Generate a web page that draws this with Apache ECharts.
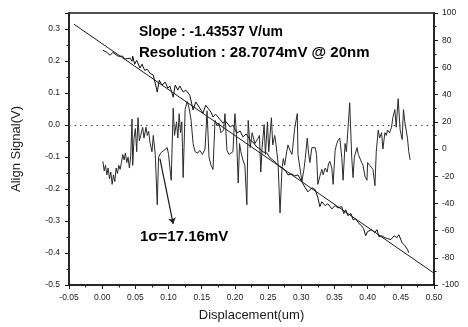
<!DOCTYPE html>
<html>
<head>
<meta charset="utf-8">
<script src="https://cdn.jsdelivr.net/npm/echarts@6/dist/echarts.min.js"></script>
<style>
  html, body { margin: 0; padding: 0; background: #fff; }
  #chart { width: 468px; height: 327px; }
</style>
</head>
<body>
<div id="chart"></div>
<script>
// linear fit of the align signal
const fitLine = [[-0.0425, 0.315], [0.5, -0.463]];

// measured align signal (V) vs displacement (um)
const alignSignal = [
  [0.001,0.234],[0.007,0.227],[0.012,0.218],[0.016,0.227],[0.019,0.224],[0.024,0.215],[0.027,0.212],
  [0.031,0.215],[0.034,0.206],[0.037,0.202],[0.042,0.209],[0.045,0.199],[0.046,0.215],[0.049,0.190],
  [0.052,0.202],[0.057,0.178],[0.060,0.190],[0.064,0.171],[0.068,0.174],[0.072,0.162],[0.077,0.156],
  [0.080,0.159],[0.083,0.103],[0.086,0.140],[0.090,0.125],[0.095,0.134],[0.099,0.115],[0.102,0.122],
  [0.107,0.087],[0.110,0.125],[0.114,0.109],[0.117,0.122],[0.122,0.103],[0.126,0.109],[0.132,0.093],
  [0.137,0.047],[0.141,0.072],[0.147,0.053],[0.152,0.037],[0.156,0.062],[0.159,0.056],[0.164,0.040],
  [0.167,0.025],[0.171,0.034],[0.178,0.016],[0.182,0.006],[0.186,0.012],[0.193,-0.006],[0.197,0.000],
  [0.203,-0.025],[0.208,-0.019],[0.212,-0.037],[0.217,-0.028],[0.223,-0.047],[0.227,-0.053],[0.233,-0.069],
  [0.238,-0.075],[0.242,-0.084],[0.248,-0.087],[0.253,-0.103],[0.257,-0.109],[0.262,-0.118],[0.268,-0.131],
  [0.272,-0.134],[0.277,-0.146],[0.280,-0.156],[0.286,-0.153],[0.290,-0.159],[0.295,-0.156],[0.301,-0.178],
  [0.306,-0.196],[0.310,-0.209],[0.316,-0.196],[0.321,-0.202],[0.325,-0.227],[0.328,-0.255],[0.331,-0.240],
  [0.336,-0.252],[0.340,-0.246],[0.346,-0.262],[0.351,-0.252],[0.355,-0.259],[0.361,-0.255],[0.364,-0.277],
  [0.367,-0.265],[0.370,-0.283],[0.375,-0.277],[0.378,-0.296],[0.382,-0.293],[0.387,-0.308],[0.391,-0.315],
  [0.394,-0.324],[0.397,-0.346],[0.400,-0.333],[0.406,-0.327],[0.411,-0.336],[0.414,-0.327],[0.417,-0.349],
  [0.421,-0.346],[0.426,-0.352],[0.430,-0.355],[0.435,-0.358],[0.440,-0.346],[0.444,-0.352],[0.447,-0.343],
  [0.452,-0.368],[0.456,-0.377],[0.460,-0.389],[0.462,-0.399]
];

// residual noise (mV, right axis)
const noiseSignal = [
  [0.001,-9],[0.003,-16],[0.005,-12],[0.007,-19],[0.009,-14],[0.011,-22],[0.013,-17],[0.015,-26],[0.017,-19],
  [0.019,-24],[0.021,-14],[0.023,-18],[0.025,-12],[0.027,-15],[0.029,-10],[0.031,-4],[0.033,-8],[0.035,-3],
  [0.037,-10],[0.039,-6],[0.041,-14],[0.043,-5],[0.045,22],[0.046,-12],[0.048,8],[0.050,15],[0.052,-2],
  [0.054,23],[0.056,6],[0.058,10],[0.061,16],[0.063,8],[0.066,16],[0.068,10],[0.070,13],[0.072,5],[0.075,-2],
  [0.077,10],[0.080,-4],[0.083,-41],[0.085,-6],[0.088,-3],[0.090,-4],[0.093,-1],[0.095,-2],[0.098,1],[0.100,-4],
  [0.104,-23],[0.107,30],[0.109,10],[0.112,20],[0.114,8],[0.116,26],[0.118,12],[0.120,20],[0.121,1],[0.122,-21],
  [0.125,29],[0.128,35],[0.131,30],[0.134,21],[0.137,4],[0.140,-2],[0.144,-3],[0.147,-1],[0.151,-4],[0.155,0],
  [0.158,28],[0.161,-6],[0.164,-12],[0.167,-15],[0.170,21],[0.173,17],[0.176,19],[0.179,12],[0.183,14],
  [0.185,26],[0.188,-1],[0.191,-4],[0.194,-3],[0.197,-2],[0.200,26],[0.202,14],[0.205,-25],[0.207,4],
  [0.209,-2],[0.212,-8],[0.215,-12],[0.218,-41],[0.220,21],[0.223,1],[0.226,12],[0.230,4],[0.235,8],[0.237,10],
  [0.239,-17],[0.241,1],[0.244,18],[0.246,-4],[0.249,20],[0.251,-2],[0.255,23],[0.257,3],[0.260,10],[0.262,3],
  [0.265,-10],[0.268,-47],[0.271,-14],[0.273,-7],[0.275,-12],[0.278,-2],[0.280,3],[0.283,-1],[0.286,-4],
  [0.288,5],[0.290,15],[0.294,26],[0.295,-4],[0.298,-14],[0.301,-24],[0.304,-15],[0.306,-7],[0.309,8],
  [0.311,-3],[0.313,-10],[0.316,1],[0.318,0],[0.321,1],[0.323,-4],[0.325,-26],[0.328,-20],[0.331,-15],
  [0.333,-19],[0.336,-14],[0.339,-17],[0.341,-11],[0.343,-9],[0.346,-14],[0.348,-26],[0.351,-1],[0.353,3],
  [0.355,6],[0.358,8],[0.361,-6],[0.363,-23],[0.366,4],[0.368,-2],[0.370,12],[0.373,34],[0.376,-6],[0.378,-21],
  [0.380,-6],[0.384,1],[0.386,-4],[0.388,-3],[0.391,-10],[0.393,-12],[0.396,-20],[0.399,-23],[0.400,-10],
  [0.403,-12],[0.406,-12],[0.408,-15],[0.411,-27],[0.413,-2],[0.416,14],[0.418,8],[0.421,12],[0.423,0],
  [0.426,12],[0.428,10],[0.430,14],[0.433,12],[0.436,16],[0.438,23],[0.441,29],[0.443,16],[0.446,37],
  [0.449,14],[0.452,7],[0.454,29],[0.456,20],[0.458,19],[0.460,8],[0.462,-2],[0.464,-8]
];

// arrow from the noise trace to the 1-sigma label (x in um, y in mV)
const sigmaArrow = [[0.087, -7], [0.107, -55]];

const textSlope = 'Slope : -1.43537 V/um';
const textResolution = 'Resolution : 28.7074mV @ 20nm';
const textSigma = '1\u03c3=17.16mV';

const FONT = '"Liberation Sans", Arial, sans-serif';
const INK = '#1a1a1a';

const chart = echarts.init(document.getElementById('chart'), null, { renderer: 'canvas' });

const axisCommon = {
  axisLine: { show: true, onZero: false, lineStyle: { color: INK, width: 1.5 } },
  axisTick: { show: true, inside: false, length: 4, lineStyle: { color: INK, width: 1 } },
  minorTick: { show: true, splitNumber: 2, length: 2.5, lineStyle: { color: INK, width: 1 } },
  splitLine: { show: false },
  minorSplitLine: { show: false },
  nameTextStyle: { fontFamily: FONT, fontSize: 13, color: INK }
};

chart.setOption({
  animation: false,
  backgroundColor: '#fff',
  grid: {
    left: 69, right: 34, top: 13, bottom: 41,
    show: true, borderColor: INK, borderWidth: 1.5, backgroundColor: 'transparent'
  },
  xAxis: Object.assign({}, axisCommon, {
    type: 'value',
    min: -0.05, max: 0.5, interval: 0.05,
    name: 'Displacement(um)',
    nameLocation: 'middle',
    nameGap: 24,
    axisLabel: {
      fontFamily: FONT, fontSize: 8.5, color: INK, margin: 8,
      formatter: v => v.toFixed(2)
    }
  }),
  yAxis: [
    Object.assign({}, axisCommon, {
      type: 'value',
      min: -0.5, max: 0.35, interval: 0.1,
      name: 'Align Signal(V)',
      nameLocation: 'middle',
      nameGap: 46,
      axisLabel: {
        fontFamily: FONT, fontSize: 8.5, color: INK, margin: 9,
        formatter: v => Math.abs(v * 10 - Math.round(v * 10)) < 1e-6 ? v.toFixed(1) : ''
      }
    }),
    Object.assign({}, axisCommon, {
      type: 'value',
      position: 'right',
      min: -100, max: 100, interval: 20,
      axisLabel: { fontFamily: FONT, fontSize: 8.5, color: INK, margin: 8 }
    })
  ],
  series: [
    {
      name: 'fit',
      type: 'line',
      data: fitLine,
      yAxisIndex: 0,
      showSymbol: false,
      silent: true,
      lineStyle: { color: INK, width: 1 },
      markLine: {
        silent: true,
        symbol: 'none',
        label: { show: false },
        lineStyle: { color: '#444', width: 1, type: [1.5, 4] },
        data: [{ yAxis: 0 }]
      }
    },
    {
      name: 'align',
      type: 'line',
      data: alignSignal,
      yAxisIndex: 0,
      showSymbol: false,
      silent: true,
      lineStyle: { color: '#111', width: 1 }
    },
    {
      name: 'noise',
      type: 'line',
      data: noiseSignal,
      yAxisIndex: 1,
      showSymbol: false,
      silent: true,
      lineStyle: { color: '#2a2a2a', width: 1 },
      markLine: {
        silent: true,
        symbol: ['none', 'arrow'],
        symbolSize: 6,
        label: { show: false },
        lineStyle: { color: INK, width: 1.2, type: 'solid' },
        data: [[{ coord: sigmaArrow[0] }, { coord: sigmaArrow[1] }]]
      }
    }
  ],
  graphic: [
    { type: 'text', left: 139, top: 25,
      style: { text: textSlope, font: 'bold 14px ' + FONT, fill: '#000' } },
    { type: 'text', left: 139, top: 45,
      style: { text: textResolution, font: 'bold 15px ' + FONT, fill: '#000' } },
    { type: 'text', left: 140, top: 229,
      style: { text: textSigma, font: 'bold 15px ' + FONT, fill: '#000' } }
  ]
});

window.addEventListener('resize', () => chart.resize());
</script>
</body>
</html>
